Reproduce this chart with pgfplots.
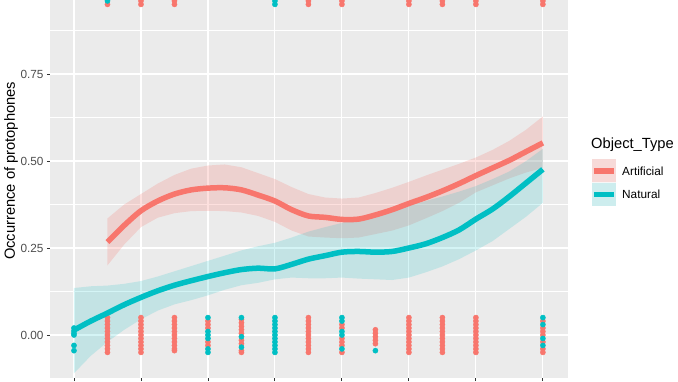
\documentclass[border=0pt]{standalone}
\usepackage{pgfplots}
\pgfplotsset{compat=1.18}
\usepackage{pgfplotstable}
\usepgfplotslibrary{fillbetween}
\usepackage{fontspec}
\setmainfont{Liberation Sans}
\definecolor{ggred}{HTML}{F8766D}
\definecolor{ggteal}{HTML}{00BFC4}
\definecolor{ggbg}{HTML}{EBEBEB}
\definecolor{ggtxt}{HTML}{4D4D4D}
\definecolor{ggtick}{HTML}{333333}

\pgfplotstableread{
x    y     lo    hi
1    0.267 0.200 0.335
1.5  0.315 0.260 0.375
2    0.357 0.310 0.405
2.5  0.385 0.337 0.435
3    0.405 0.350 0.460
3.5  0.417 0.356 0.478
4    0.422 0.357 0.487
4.5  0.423 0.356 0.490
5    0.417 0.352 0.482
5.5  0.402 0.342 0.465
6    0.385 0.325 0.448
6.5  0.360 0.300 0.425
7    0.342 0.283 0.405
7.5  0.338 0.280 0.395
8    0.332 0.278 0.392
8.5  0.333 0.280 0.395
9    0.345 0.290 0.408
9.5  0.360 0.300 0.423
10   0.378 0.315 0.440
10.5 0.395 0.335 0.458
11   0.414 0.356 0.475
11.5 0.435 0.380 0.492
12   0.458 0.410 0.510
12.5 0.480 0.430 0.532
13   0.502 0.450 0.558
13.5 0.527 0.467 0.590
14   0.552 0.480 0.628
}\artificial

\pgfplotstableread{
x    y     lo     hi
0    0.014 -0.110 0.135
0.5  0.040 -0.060 0.140
1    0.063 -0.020 0.142
1.5  0.087 0.015  0.147
2    0.108 0.045  0.155
2.5  0.127 0.070  0.168
3    0.143 0.088  0.183
3.5  0.156 0.100  0.198
4    0.168 0.114  0.213
4.5  0.179 0.130  0.228
5    0.188 0.143  0.243
5.5  0.192 0.150  0.255
6    0.190 0.160  0.265
6.5  0.203 0.165  0.280
7    0.218 0.163  0.297
7.5  0.228 0.163  0.310
8    0.238 0.165  0.322
8.5  0.240 0.162  0.335
9    0.238 0.160  0.348
9.5  0.240 0.158  0.360
10   0.250 0.165  0.372
10.5 0.262 0.180  0.385
11   0.280 0.197  0.398
11.5 0.302 0.218  0.412
12   0.333 0.243  0.428
12.5 0.362 0.270  0.448
13   0.398 0.305  0.470
13.5 0.437 0.340  0.500
14   0.476 0.380  0.535
}\natural

\begin{document}
\begin{tikzpicture}
\begin{axis}[name=ax, scale only axis, width=518pt, height=378pt,
  xmin=-0.716, xmax=14.75, ymin=-0.1236, ymax=0.9626,
  axis background/.style={fill=ggbg},
  axis line style={draw=none},
  xtick={0,2,4,6,8,10,12,14}, xticklabels={},
  ytick={0,0.25,0.5,0.75}, yticklabels={0.00,0.25,0.50,0.75},
  minor ytick={0.125,0.375,0.625,0.875},
  xmajorgrids, ymajorgrids, yminorgrids,
  major grid style={white, line width=1.1pt},
  minor grid style={white, line width=0.55pt},
  tick align=outside, tick pos=left,
  major tick length=3pt, minor tick length=0pt,
  tick style={ggtick, line width=0.9pt},
  /pgf/number format/assume math mode=true,
  yticklabel style={font=\fontsize{11.8}{12}\selectfont, text=ggtxt},
  ylabel={Occurrence of protophones},
  every axis y label/.style={at={([xshift=-39pt]rel axis cs:0,0.548)}, rotate=90, anchor=center, font=\fontsize{14.7}{15}\selectfont},
  clip marker paths=true,
]
% points (jittered)
\addplot[only marks, mark=*, mark size=2.6pt, color=ggred] coordinates {
(1,-0.05)(1,-0.04)(1,-0.03)(1,-0.02)(1,-0.01)(1,0)(1,0.01)(1,0.02)(1,0.03)(1,0.04)(1,0.05)
(2,-0.05)(2,-0.04)(2,-0.03)(2,-0.02)(2,-0.01)(2,0)(2,0.01)(2,0.02)(2,0.03)(2,0.04)(2,0.05)
(3,-0.045)(3,-0.04)(3,-0.03)(3,-0.02)(3,-0.01)(3,0)(3,0.01)(3,0.02)(3,0.03)(3,0.04)(3,0.05)
(4,0.04)(4,0.03)(4,0.02)(4,-0.02)(4,-0.03)
(5,0.045)(5,0.035)(5,0.025)(5,0.015)(5,0.005)(5,-0.015)(5,-0.025)(5,-0.045)(5,-0.05)
(7,-0.05)(7,-0.04)(7,-0.03)(7,-0.02)(7,-0.01)(7,0)(7,0.01)(7,0.02)(7,0.03)(7,0.04)(7,0.05)
(8,0.03)(8,0.02)(8,-0.01)(8,-0.02)(8,-0.03)(8,-0.05)
(9,0.015)(9,0.005)(9,-0.005)(9,-0.015)(9,-0.025)
(10,-0.05)(10,-0.04)(10,-0.03)(10,-0.02)(10,-0.01)(10,0)(10,0.01)(10,0.02)(10,0.03)(10,0.04)(10,0.05)
(11,-0.05)(11,-0.04)(11,-0.03)(11,-0.02)(11,-0.01)(11,0)(11,0.01)(11,0.02)(11,0.03)(11,0.04)(11,0.05)
(12,-0.05)(12,-0.04)(12,-0.03)(12,-0.02)(12,-0.01)(12,0)(12,0.01)(12,0.02)(12,0.03)(12,0.04)(12,0.05)
(14,0.04)(14,0.02)(14,0.01)(14,0)(14,-0.02)(14,-0.04)(14,-0.05)
(1,0.95)(2,0.95)(3,0.95)(7,0.95)(8,0.95)(10,0.95)(11,0.95)(12,0.95)(14,0.95)
(2,0.96)(3,0.96)(7,0.96)(8,0.96)(10,0.96)(11,0.96)(12,0.96)(14,0.96)
};
\addplot[only marks, mark=*, mark size=2.6pt, color=ggteal] coordinates {
(0,0.02)(0,0.012)(0,0.005)(0,0)(0,-0.03)(0,-0.045)
(4,0.05)(4,0.01)(4,0)(4,-0.01)(4,-0.04)(4,-0.05)
(5,0.05)(5,-0.005)(5,-0.035)
(6,-0.05)(6,-0.04)(6,-0.03)(6,-0.02)(6,-0.01)(6,0)(6,0.01)(6,0.02)(6,0.03)(6,0.04)(6,0.05)
(8,0.05)(8,0.04)(8,0.01)(8,0)(8,-0.04)
(9,-0.045)
(14,0.05)(14,0.03)(14,-0.01)(14,-0.03)
(1,0.96)(1,0.97)(6,0.95)(6,0.96)
};
% Artificial smooth
\addplot[name path=ahi, draw=none, forget plot] table[x=x, y=hi] {\artificial};
\addplot[name path=alo, draw=none, forget plot] table[x=x, y=lo] {\artificial};
\addplot[ggred, fill opacity=0.22, draw=none] fill between[of=ahi and alo];
\addplot[ggred, line width=5.5pt, smooth] table[x=x, y=y] {\artificial};
% Natural smooth
\addplot[name path=nhi, draw=none, forget plot] table[x=x, y=hi] {\natural};
\addplot[name path=nlo, draw=none, forget plot] table[x=x, y=lo] {\natural};
\addplot[ggteal, fill opacity=0.17, draw=none] fill between[of=nhi and nlo];
\addplot[ggteal, line width=5.5pt, smooth] table[x=x, y=y] {\natural};
\end{axis}
\pgfresetboundingbox
\begin{scope}[shift={([xshift=-50pt]ax.north west)}, x=1pt, y=-1pt]
  \path[use as bounding box] (0,0) rectangle (678,381);
  \node[anchor=west, inner sep=0pt, font=\fontsize{14.7}{15}\selectfont] at (591,145) {Object\_Type};
  \fill[ggbg!40!white] (592,159) rectangle (616,206);
  \fill[ggred, opacity=0.22] (592,159) rectangle (616,182);
  \fill[ggteal, opacity=0.17] (592,183) rectangle (616,206);
  \draw[ggred, line width=5.5pt] (594,171) -- (614,171);
  \draw[ggteal, line width=5.5pt] (594,194.5) -- (614,194.5);
  \node[anchor=west, inner sep=0pt, font=\fontsize{11.8}{12}\selectfont] at (622,171) {Artificial};
  \node[anchor=west, inner sep=0pt, font=\fontsize{11.8}{12}\selectfont] at (622,194.5) {Natural};
\end{scope}
\end{tikzpicture}
\end{document}
